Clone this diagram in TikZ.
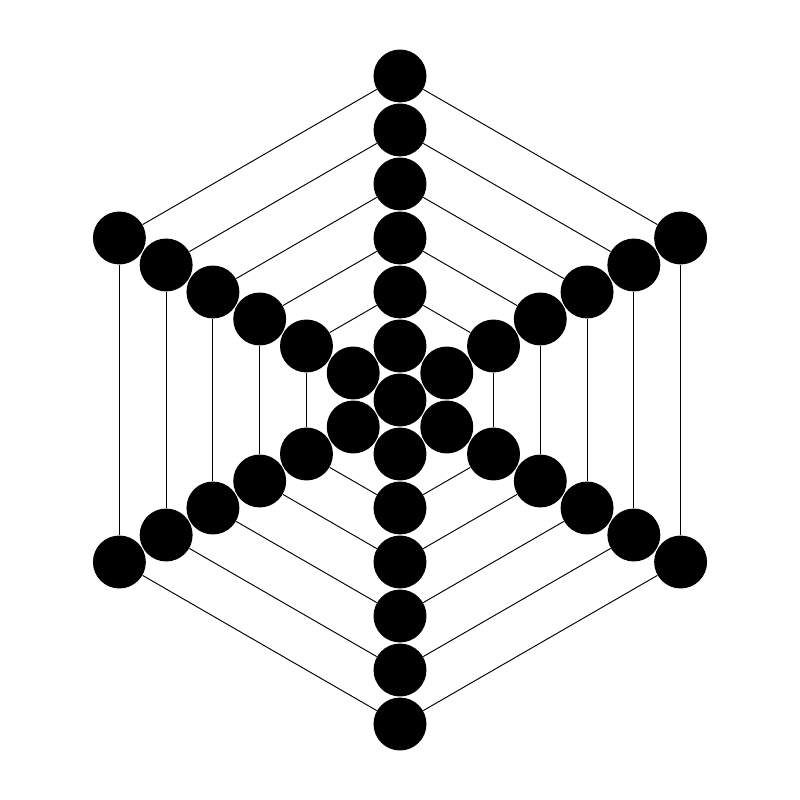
\documentclass[tikz,border=0pt]{standalone}
\usepackage{tikz}
\usetikzlibrary{positioning}
\tikzset{
	dot/.append style={
		circle,
		fill=black,
		draw=none,
		minimum size=0.98cm,
		inner sep=0mm,
	},
	ringline/.append style={
		draw=black,
		line width=0.5pt,
	}
}

\begin{document}
\begin{tikzpicture}[]

\useasboundingbox (-7.407,-7.407) rectangle (7.407,7.407);

\node(c)[dot] at (0,0) {};

% rings of the web
\foreach \k in {1,...,6}{
	\foreach \i in {0,...,5}{
		\node(n-\k-\i)[dot] at (90-60*\i:\k) {};
	}
}

\foreach \k in {2,...,6}{
	\foreach \i [evaluate=\i as \j using {int(mod(\i+1,6))}] in {0,...,5}{
		\draw[ringline] (n-\k-\i) -- (n-\k-\j);
	}
}

\end{tikzpicture}
\end{document}
